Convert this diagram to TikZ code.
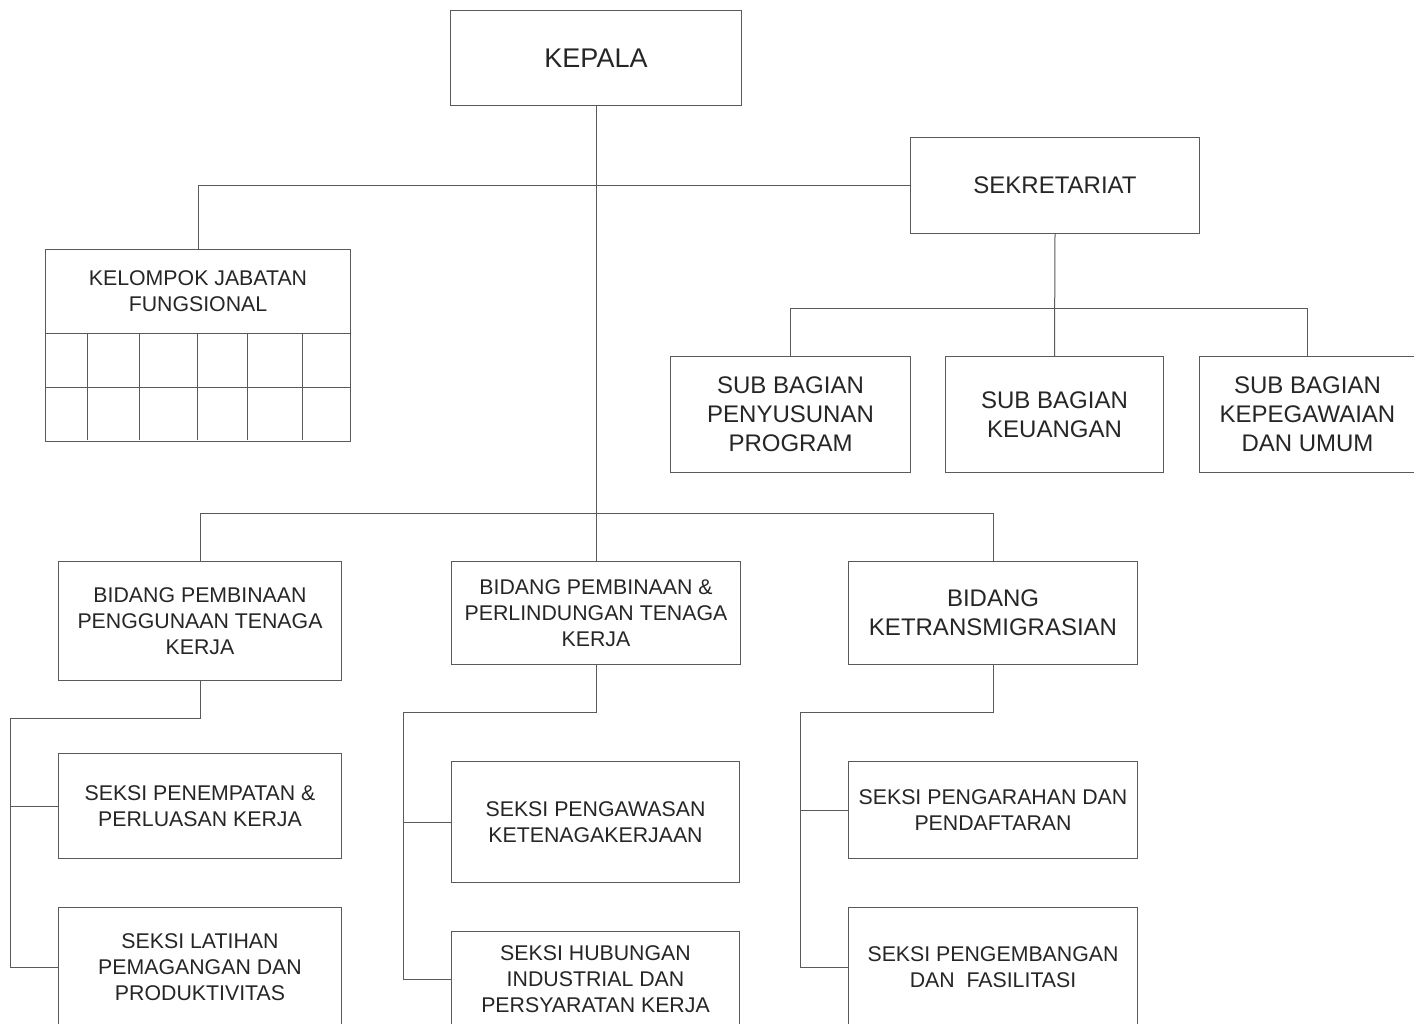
\documentclass[tikz,border=0pt]{standalone}
\usepackage{fontspec}
\setmainfont{Liberation Sans}
\definecolor{ln}{HTML}{5A5A5A}
\definecolor{tx}{HTML}{262626}
\begin{document}
\begin{tikzpicture}[x=1pt,y=-1pt,
  box/.style={draw=ln, line width=1pt, inner sep=0pt, anchor=north west, align=center, text=tx},
  big/.style={font=\fontsize{24}{29}\selectfont},
  small/.style={font=\fontsize{21.3}{26}\selectfont},
  conn/.style={draw=ln, line width=1pt}]
\useasboundingbox (0,0) rectangle (1414,1024);
\clip (0,0) rectangle (1414,1024);
\fill[white] (0,0) rectangle (1414,1024);

% top level
\node[box, font=\fontsize{27}{32}\selectfont, minimum width=291, minimum height=95] (kepala) at (450,10) {KEPALA};
\node[box, big, minimum width=289, minimum height=96] (sek) at (910,137) {SEKRETARIAT};
\node[box, small, minimum width=305, minimum height=84] (kjf) at (45,249) {KELOMPOK JABATAN\\FUNGSIONAL};
\draw[conn] (kjf.south west) rectangle ++(305,107);
\draw[conn] (45,387) -- (350,387);
\foreach \gx in {87,139,197,247,302} \draw[conn] (\gx,333) -- (\gx,440);

% sub bagian
\node[box, big, minimum width=240, minimum height=116] (sb1) at (670,356) {SUB BAGIAN\\PENYUSUNAN\\PROGRAM};
\node[box, big, minimum width=218, minimum height=116] (sb2) at (945,356) {SUB BAGIAN\\KEUANGAN};
\node[box, big, minimum width=216, minimum height=116] (sb3) at (1199,356) {SUB BAGIAN\\KEPEGAWAIAN\\DAN UMUM};

% bidang
\node[box, small, minimum width=283, minimum height=119] (bd1) at (58,561) {BIDANG PEMBINAAN\\PENGGUNAAN TENAGA\\KERJA};
\node[box, small, minimum width=289, minimum height=103] (bd2) at (451,561) {BIDANG PEMBINAAN \&\\PERLINDUNGAN TENAGA\\KERJA};
\node[box, big, minimum width=289, minimum height=103] (bd3) at (848,561) {BIDANG\\KETRANSMIGRASIAN};

% seksi
\node[box, small, minimum width=283, minimum height=105] (s1) at (58,753) {SEKSI PENEMPATAN \&\\PERLUASAN KERJA};
\node[box, small, minimum width=283, minimum height=120] (s2) at (58,907) {SEKSI LATIHAN\\PEMAGANGAN DAN\\PRODUKTIVITAS};
\node[box, small, minimum width=288, minimum height=121] (s3) at (451,761) {SEKSI PENGAWASAN\\KETENAGAKERJAAN};
\node[box, small, minimum width=288, minimum height=95] (s4) at (451,931) {SEKSI HUBUNGAN\\INDUSTRIAL DAN\\PERSYARATAN KERJA};
\node[box, small, minimum width=289, minimum height=97] (s5) at (848,761) {SEKSI PENGARAHAN DAN\\PENDAFTARAN};
\node[box, small, minimum width=289, minimum height=120] (s6) at (848,907) {SEKSI PENGEMBANGAN\\DAN\ \ FASILITASI};

% connectors
\draw[conn] (kepala.south) -- (kepala.south |- bd2.north);
\draw[conn] (kjf.north) |- (sek.west);
\coordinate (yB) at (0,513);
\draw[conn] (bd1.north) |- (yB -| bd3.north) -- (bd3.north);
\draw[conn] (sek.south) -- (sb2.north);
\coordinate (yC) at (0,309);
\draw[conn] (sb1.north) |- (yC -| sb3.north) -- (sb3.north);

\coordinate (t1) at (10,718);
\draw[conn] (bd1.south) |- (t1) -- (t1 |- s2.west) -- (s2.west);
\draw[conn] (t1 |- s1.west) -- (s1.west);
\coordinate (t2) at (403,712);
\draw[conn] (bd2.south) |- (t2) -- (t2 |- s4.west) -- (s4.west);
\draw[conn] (t2 |- s3.west) -- (s3.west);
\coordinate (t3) at (800,712);
\draw[conn] (bd3.south) |- (t3) -- (t3 |- s6.west) -- (s6.west);
\draw[conn] (t3 |- s5.west) -- (s5.west);
\end{tikzpicture}
\end{document}
